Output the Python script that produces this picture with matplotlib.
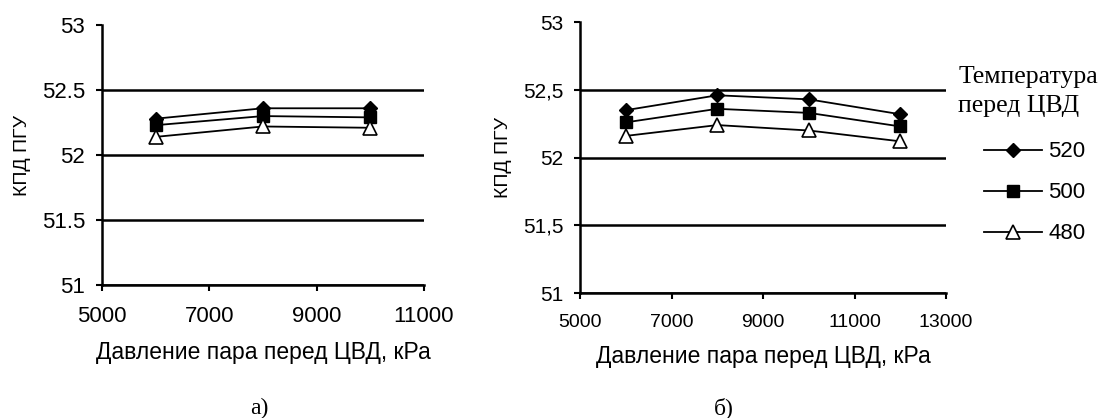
import numpy as np
import matplotlib.pyplot as plt

# давление пара перед ЦВД, кПа
p_a = [6000, 8000, 10000]
p_b = [6000, 8000, 10000, 12000]

# КПД ПГУ, %, для температур перед ЦВД
temps = ['520', '500', '480']
eff_a = {
    '520': [52.28, 52.36, 52.36],
    '500': [52.23, 52.30, 52.29],
    '480': [52.14, 52.22, 52.21],
}
eff_b = {
    '520': [52.35, 52.46, 52.43, 52.32],
    '500': [52.26, 52.36, 52.33, 52.23],
    '480': [52.16, 52.24, 52.20, 52.12],
}

yticks = [51, 51.5, 52, 52.5, 53]
yticklabels_a = ['51', '51.5', '52', '52.5', '53']
yticklabels_b = ['51', '51,5', '52', '52,5', '53']

sans = ['Liberation Sans', 'DejaVu Sans']
serif = ['Liberation Serif', 'DejaVu Serif']

styles = {
    '520': dict(marker='D', ms=7, mfc='black', mec='black'),
    '500': dict(marker='s', ms=8, mfc='black', mec='black'),
    '480': dict(marker='^', ms=9.5, mfc='white', mec='black', mew=1.2),
}

fig = plt.figure(figsize=(11.18, 4.18), dpi=100)
ax1 = fig.add_axes([0.0912, 0.318, 0.288, 0.622])
ax2 = fig.add_axes([0.5188, 0.299, 0.3274, 0.648])


def setup(ax, xmax, xticks, ylabels, fsx, fsy):
    ax.set_xlim(5000, xmax)
    ax.set_ylim(51, 53)
    ax.set_xticks(xticks)
    ax.set_xticklabels([str(x) for x in xticks], family=sans, fontsize=fsx)
    ax.set_yticks(yticks)
    ax.set_yticklabels(ylabels, family=sans, fontsize=fsy)
    for s in ['top', 'right']:
        ax.spines[s].set_visible(False)
    for s in ['left', 'bottom']:
        ax.spines[s].set_linewidth(1.8)
    ax.tick_params(width=1.5, length=4, direction='out', pad=8)
    ax.tick_params(axis='x', pad=11)
    ax.yaxis.grid(True, color='black', linewidth=1.8)
    ax.yaxis.get_gridlines()[-1].set_visible(False)
    ax.set_axisbelow(True)
    ax.set_xlabel('Давление пара перед ЦВД, кРа', family=sans, fontsize=16.5, labelpad=10)
    ax.set_ylabel('КПД ПГУ', family=sans, fontsize=14, labelpad=8)


setup(ax1, 11000, [5000, 7000, 9000, 11000], yticklabels_a, 16, 16)
setup(ax2, 13000, [5000, 7000, 9000, 11000, 13000], yticklabels_b, 14, 15)

for t in temps:
    ax1.plot(p_a, eff_a[t], color='black', lw=1.3, clip_on=False, **styles[t])
    ax2.plot(p_b, eff_b[t], color='black', lw=1.3, clip_on=False, label=t, **styles[t])

fig.text(0.857, 0.781, 'Температура\nперед ЦВД', family=serif, fontsize=18.5,
         ha='left', va='center', linespacing=1.4)
fig.legend(loc='upper left', bbox_to_anchor=(0.872, 0.683), frameon=False,
           prop={'family': sans, 'size': 16}, handlelength=2.6, handletextpad=0.3,
           labelspacing=0.9, borderaxespad=0)

fig.text(0.232, 0.024, 'а)', family=serif, fontsize=17, ha='center', va='center')
fig.text(0.647, 0.024, 'б)', family=serif, fontsize=17, ha='center', va='center')

fig.savefig('out.png', dpi=100, facecolor='white')
